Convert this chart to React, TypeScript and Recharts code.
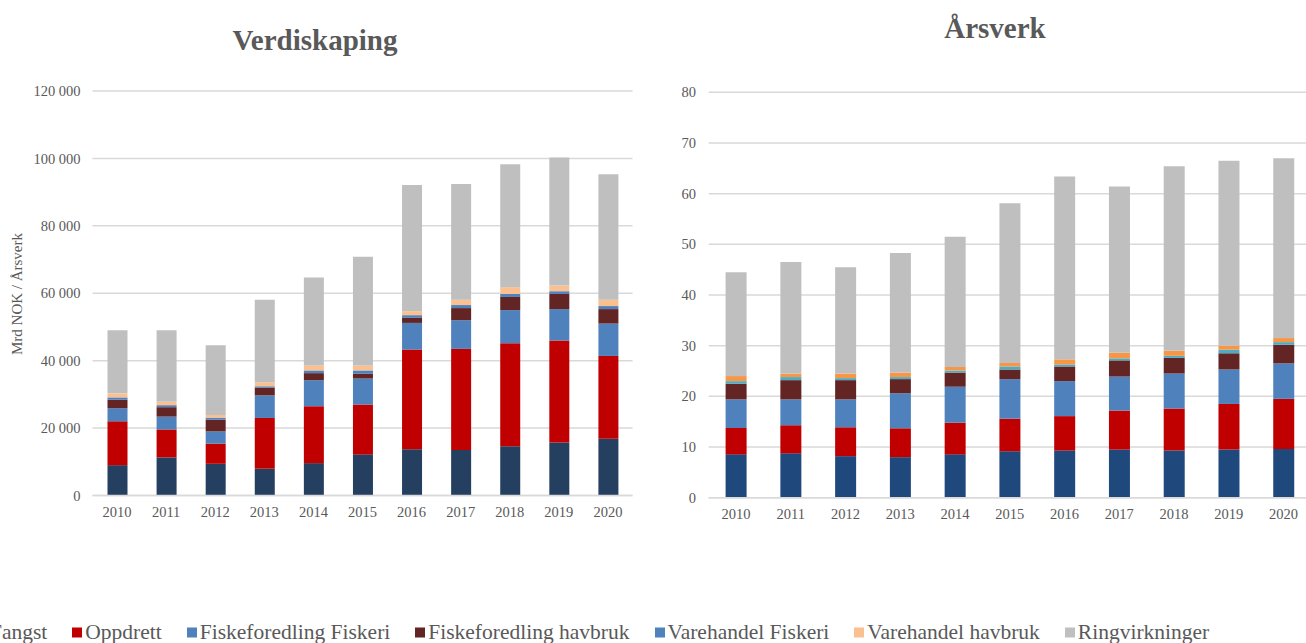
import React from 'react';
import { BarChart, Bar, XAxis, YAxis, CartesianGrid } from 'recharts';

const years = ['2010', '2011', '2012', '2013', '2014', '2015', '2016', '2017', '2018', '2019', '2020'];

const seriesNames = [
  'Fangst',
  'Oppdrett',
  'Fiskeforedling Fiskeri',
  'Fiskeforedling havbruk',
  'Varehandel Fiskeri',
  'Varehandel havbruk',
  'Ringvirkninger',
];

// Verdiskaping (Mrd NOK)
const verdiFangst = [9000, 11300, 9400, 7900, 9600, 12200, 13700, 13500, 14600, 15700, 16800];
const verdiOppdrett = [13000, 8300, 6000, 15100, 16900, 14800, 29600, 30000, 30600, 30300, 24600];
const verdiFFFiskeri = [3900, 3800, 3600, 6700, 7700, 7700, 7900, 8500, 9800, 9300, 9600];
const verdiFFHavbruk = [2500, 2800, 3500, 2300, 2100, 1400, 1500, 3600, 3900, 4500, 4300];
const verdiVFiskeri = [700, 600, 600, 400, 800, 1000, 800, 900, 900, 800, 900];
const verdiVHavbruk = [1200, 1000, 800, 1200, 1500, 1500, 1200, 1600, 2000, 1700, 1900];
const verdiRing = [18700, 21200, 20700, 24500, 26100, 32200, 37400, 34300, 36500, 38000, 37200];

// Årsverk
const arsFangst = [8.55, 8.75, 8.2, 8.0, 8.55, 9.15, 9.3, 9.5, 9.3, 9.5, 9.6];
const arsOppdrett = [5.2, 5.55, 5.7, 5.7, 6.25, 6.45, 6.8, 7.7, 8.3, 9.0, 9.9];
const arsFFFiskeri = [5.65, 5.1, 5.5, 6.9, 7.1, 7.8, 6.9, 6.7, 6.9, 6.8, 7.0];
const arsFFHavbruk = [3.1, 3.8, 3.8, 2.8, 2.8, 1.9, 2.9, 3.2, 3.1, 3.2, 3.7];
const arsVFiskeri = [0.5, 0.6, 0.4, 0.4, 0.4, 0.6, 0.4, 0.4, 0.4, 0.7, 0.5];
const arsVHavbruk = [1.0, 0.7, 0.9, 0.9, 0.7, 0.7, 1.0, 1.1, 1.0, 0.8, 0.8];
const arsRing = [20.5, 22.0, 21.0, 23.6, 25.7, 31.5, 36.1, 32.8, 36.4, 36.5, 35.5];

const verdiTicks = [0, 20000, 40000, 60000, 80000, 100000, 120000];
const arsTicks = [0, 10, 20, 30, 40, 50, 60, 70, 80];

const keys = ['s0', 's1', 's2', 's3', 's4', 's5', 's6'];

const verdiColors = ['#243F60', '#C00000', '#4F81BD', '#632523', '#4F81BD', '#FAC090', '#BFBFBF'];
const arsColors = ['#1F497D', '#C00000', '#4F81BD', '#632523', '#4BACC6', '#F79646', '#BFBFBF'];
const legendColors = ['#1F497D', '#C00000', '#4F81BD', '#632523', '#4F81BD', '#FAC090', '#BFBFBF'];

function buildRows(series: number[][]) {
  return years.map((y, i) => {
    const row: Record<string, string | number> = { year: y };
    series.forEach((s, k) => {
      row[keys[k]] = s[i];
    });
    return row;
  });
}

const verdiData = buildRows([
  verdiFangst, verdiOppdrett, verdiFFFiskeri, verdiFFHavbruk, verdiVFiskeri, verdiVHavbruk, verdiRing,
]);
const arsData = buildRows([
  arsFangst, arsOppdrett, arsFFFiskeri, arsFFHavbruk, arsVFiskeri, arsVHavbruk, arsRing,
]);

const FONT = '"Liberation Serif", "Times New Roman", serif';
const TEXT = '#595959';
const GRID = '#D9D9D9';

const fmtThousands = (v: number) => String(v).replace(/\B(?=(\d{3})+(?!\d))/g, ' ');

export default function App() {
  const tickStyle = { fontFamily: FONT, fontSize: 14.5, fill: TEXT };
  return (
    <div style={{ position: 'absolute', left: 0, top: 0, width: 1306, height: 643, overflow: 'hidden', background: '#fff', fontFamily: FONT }}>
      {/* Titles */}
      <div style={{ position: 'absolute', left: 315, top: 40, transform: 'translate(-50%, -50%)', fontSize: 29, fontWeight: 'bold', color: TEXT, whiteSpace: 'nowrap' }}>
        Verdiskaping
      </div>
      <div style={{ position: 'absolute', left: 995, top: 28, transform: 'translate(-50%, -50%)', fontSize: 29, fontWeight: 'bold', color: TEXT, whiteSpace: 'nowrap' }}>
        Årsverk
      </div>
      <div style={{ position: 'absolute', left: 17, top: 294, transform: 'translate(-50%, -50%) rotate(-90deg)', fontSize: 15, color: TEXT, whiteSpace: 'nowrap' }}>
        Mrd NOK / Årsverk
      </div>

      {/* Left chart */}
      <div style={{ position: 'absolute', left: 0, top: 0 }}>
        <BarChart width={640} height={530} data={verdiData} margin={{ top: 91, right: 7.5, left: 0, bottom: 4.5 }} barSize={20}>
          <CartesianGrid vertical={false} stroke={GRID} strokeWidth={1.5} />
          <XAxis dataKey="year" height={30} tickLine={false} axisLine={{ stroke: GRID, strokeWidth: 1.5 }} tick={tickStyle} tickMargin={5} interval={0} />
          <YAxis width={92.5} domain={[0, 120000]} ticks={verdiTicks} tickFormatter={fmtThousands} tickLine={false} axisLine={false} tick={tickStyle} tickMargin={6} interval={0} />
          {keys.map((k, i) => (
            <Bar key={k} dataKey={k} name={seriesNames[i]} stackId="a" fill={verdiColors[i]} isAnimationActive={false} />
          ))}
        </BarChart>
      </div>

      {/* Right chart */}
      <div style={{ position: 'absolute', left: 640, top: 0 }}>
        <BarChart width={680} height={532} data={arsData} margin={{ top: 92.3, right: 9, left: 0, bottom: 4.3 }} barSize={21}>
          <CartesianGrid vertical={false} stroke={GRID} strokeWidth={1.5} />
          <XAxis dataKey="year" height={30} tickLine={false} axisLine={{ stroke: GRID, strokeWidth: 1.5 }} tick={tickStyle} tickMargin={5} interval={0} />
          <YAxis width={68.6} domain={[0, 80]} ticks={arsTicks} tickLine={false} axisLine={false} tick={tickStyle} tickMargin={6.5} interval={0} />
          {keys.map((k, i) => (
            <Bar key={k} dataKey={k} name={seriesNames[i]} stackId="a" fill={arsColors[i]} isAnimationActive={false} />
          ))}
        </BarChart>
      </div>

      {/* Legend */}
      <div style={{ position: 'absolute', left: -23, top: 632, transform: 'translateY(-50%)', display: 'flex', alignItems: 'center', gap: 25, whiteSpace: 'nowrap', fontSize: 21.5, color: TEXT }}>
        {seriesNames.map((n, i) => (
          <div key={n} style={{ display: 'flex', alignItems: 'center' }}>
            <span style={{ display: 'inline-block', width: 10, height: 10, background: legendColors[i], marginRight: 3 }} />
            <span>{n}</span>
          </div>
        ))}
      </div>
    </div>
  );
}
